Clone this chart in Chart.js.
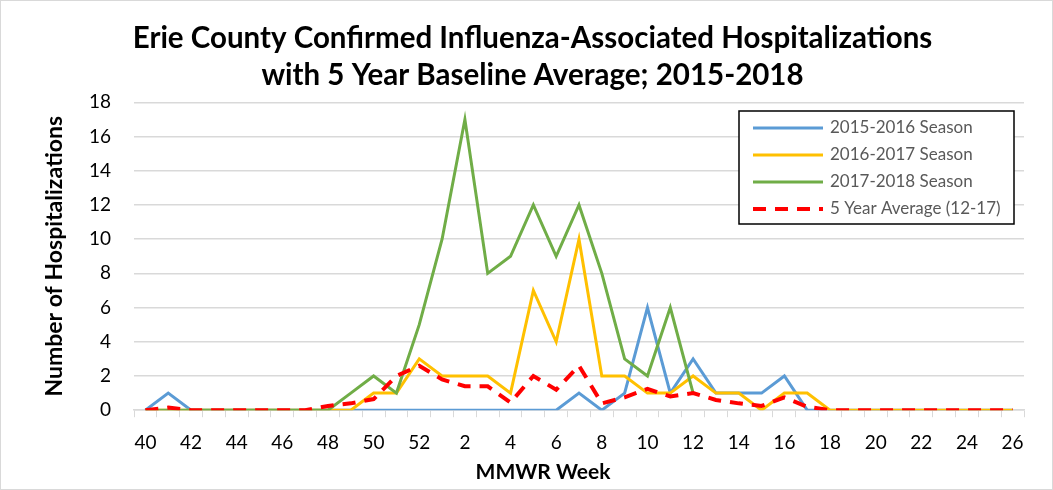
<!DOCTYPE html>
<html>
<head>
<meta charset="utf-8">
<script src="https://cdn.jsdelivr.net/npm/chart.js@4"></script>
<style>
  body { margin: 0; background: #fff; }
  #wrap { width: 1053px; height: 490px; position: relative; box-sizing: border-box; border: 1px solid #d9d9d9; }
</style>
</head>
<body>
<div id="wrap"><canvas id="chart-1"></canvas></div>
<script>
const ctx1 = document.getElementById('chart-1');

// MMWR weeks 40..52, then 1..26
var weeks = ['40','41','42','43','44','45','46','47','48','49','50','51','52',
    '1','2','3','4','5','6','7','8','9','10','11','12','13','14','15','16','17','18','19','20','21','22','23','24','25','26'];

var season1516 = [0,1,0,0,0,0,0,0,0,0,0,0,0,
    0,0,0,0,0,0,1,0,1,6,1,3,1,1,1,2,0,0,0,0,0,0,0,0,0,0];
var season1617 = [0,0,0,0,0,0,0,0,0,0,1,1,3,
    2,2,2,1,7,4,10,2,2,1,1,2,1,1,0,1,1,0,0,0,0,0,0,0,0,0];
var season1718 = [0,0,0,0,0,0,0,0,0,1,2,1,5,
    10,17,8,9,12,9,12,8,3,2,6,1,null,null,null,null,null,null,null,null,null,null,null,null,null,null];
var avg5yr = [0,0.15,0,0,0,0,0,0,0.25,0.4,0.65,2,2.6,
    1.8,1.4,1.4,0.45,2,1.2,2.6,0.4,0.75,1.25,0.8,1,0.6,0.4,0.25,0.75,0.2,0,0,0,0,0,0,0,0,0];

var seriesNames = ['2015-2016 Season', '2016-2017 Season', '2017-2018 Season', '5 Year Average (12-17)'];
var seriesColors = ['#5B9BD5', '#FFC000', '#70AD47', '#FF0000'];

var fontFamily = 'Lato, "Open Sans", sans-serif';

// legend box inside the plot area + x axis title placed like the original
const extras = {
    id: 'extras',
    afterDraw(chart) {
        const c = chart.ctx;
        const x0 = 738, y0 = 110, w = 275, h = 113;
        c.save();
        c.fillStyle = '#fff';
        c.fillRect(x0, y0, w, h);
        c.strokeStyle = '#000';
        c.lineWidth = 1.5;
        c.strokeRect(x0, y0, w, h);
        c.font = '17px ' + fontFamily;
        c.textBaseline = 'middle';
        chart.data.datasets.forEach((ds, i) => {
            const y = y0 + 17 + i * 27;
            c.beginPath();
            c.strokeStyle = ds.borderColor;
            c.lineWidth = ds.borderWidth;
            c.setLineDash(ds.borderDash || []);
            c.moveTo(x0 + 14, y);
            c.lineTo(x0 + 84, y);
            c.stroke();
            c.setLineDash([]);
            c.fillStyle = '#595959';
            c.fillText(ds.label, x0 + 91, y);
        });

        c.fillStyle = '#000';
        c.font = 'bold 21px ' + fontFamily;
        c.textAlign = 'center';
        c.fillText('MMWR Week', 542, 471);
        c.restore();
    }
};

new Chart(ctx1, {
    type: 'line',
    data: {
        labels: weeks,
        datasets: [
            { label: seriesNames[0], data: season1516, borderColor: seriesColors[0], borderWidth: 3, order: 4 },
            { label: seriesNames[1], data: season1617, borderColor: seriesColors[1], borderWidth: 3, order: 3 },
            { label: seriesNames[2], data: season1718, borderColor: seriesColors[2], borderWidth: 3, order: 2 },
            { label: seriesNames[3], data: avg5yr, borderColor: seriesColors[3], borderWidth: 4, borderDash: [13, 9], order: 1 }
        ]
    },
    options: {
        responsive: true,
        maintainAspectRatio: false,
        animation: false,
        elements: {
            point: { radius: 0 },
            line: { tension: 0, fill: false, borderCapStyle: 'butt' }
        },
        layout: { padding: { left: 40, right: 28, top: 8, bottom: 21 } },
        scales: {
            x: {
                offset: true,
                grid: { drawOnChartArea: false, color: '#d9d9d9', tickLength: 7, offset: true },
                border: { color: '#d9d9d9', width: 1.5 },
                ticks: {
                    autoSkip: false,
                    maxRotation: 0,
                    color: '#000',
                    font: { family: fontFamily, size: 19 },
                    padding: 14,
                    callback: function (v, i) { return i % 2 === 0 ? weeks[i] : ''; }
                }
            },
            y: {
                min: 0,
                max: 18,
                afterFit: function (scale) { scale.width = 93; },
                grid: { color: '#d9d9d9', lineWidth: 1.5, drawTicks: false },
                border: { display: false },
                ticks: {
                    stepSize: 2,
                    color: '#000',
                    font: { family: fontFamily, size: 19 },
                    padding: 23
                },
                title: {
                    display: true,
                    text: 'Number of Hospitalizations',
                    color: '#000',
                    font: { family: fontFamily, size: 23, weight: 'bold' },
                    padding: { top: 0, bottom: 20 }
                }
            }
        },
        plugins: {
            legend: { display: false },
            tooltip: { enabled: false },
            title: {
                display: true,
                text: ['Erie County Confirmed Influenza-Associated Hospitalizations', 'with 5 Year Baseline Average; 2015-2018'],
                color: '#000',
                font: { family: fontFamily, size: 29.5, weight: 'bold', lineHeight: 1.26 },
                padding: { top: 11, bottom: 8 }
            }
        }
    },
    plugins: [extras]
});
</script>
</body>
</html>
